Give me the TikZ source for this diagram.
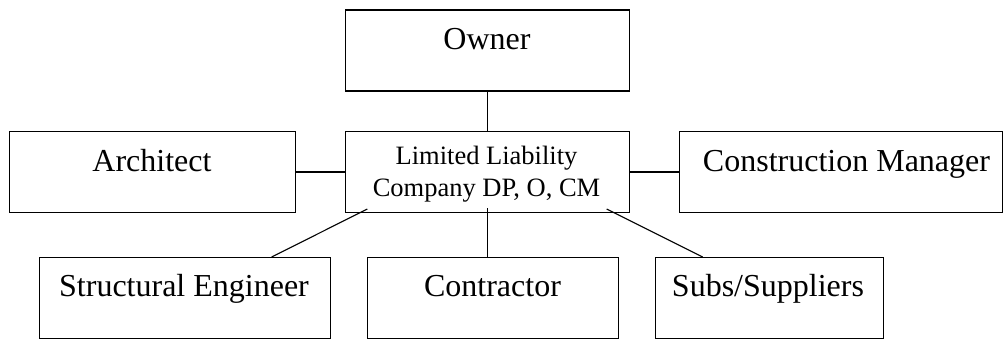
\documentclass[tikz,border=0pt]{standalone}
\usepackage{fontspec}
\setmainfont{Liberation Serif}
\begin{document}
\begin{tikzpicture}[x=1pt,y=-1pt,
  box/.style={draw,line width=1.1pt,rectangle,inner sep=0pt,anchor=north west},
  lbl/.style={anchor=base,inner sep=0pt,font=\fontsize{32}{38}\selectfont},
  small/.style={anchor=base,inner sep=0pt,align=center,font=\fontsize{26.5}{31.7}\selectfont},
  conn/.style={line width=1.1pt}]
\useasboundingbox (0,0) rectangle (1003,339);
\node[box,minimum width=284pt,minimum height=81pt] (owner) at (345,9.5) {};
\node[box,minimum width=284pt,minimum height=81pt] (llc) at (345,131) {};
\node[box,minimum width=286pt,minimum height=81pt] (arch) at (9,131) {};
\node[box,minimum width=322.5pt,minimum height=81pt] (cm) at (679,131) {};
\node[box,minimum width=291pt,minimum height=81pt] (se) at (39,257) {};
\node[box,minimum width=251pt,minimum height=81pt] (con) at (367,257) {};
\node[box,minimum width=228pt,minimum height=81pt] (subs) at (655,257) {};
\node[lbl] (towner) at (487,49.3) {Owner};
\node[lbl] (tarch) at (152,171.7) {Architect};
\node[lbl] (tcm) at (846.5,171.7) {Construction Manager};
\node[small] (tllc1) at (486.5,165) {Limited Liability};
\node[small] (tllc2) at (486.5,196.7) {Company DP, O, CM};
\node[lbl] (tse) at (184,296) {Structural Engineer};
\node[lbl] (tcon) at (492.5,296) {Contractor};
\node[lbl] (tsubs) at (768,296) {Subs/Suppliers};
\coordinate (llcsw) at (367.3,209);
\coordinate (llcse) at (606.7,209);
\coordinate (llcb) at (487.3,208);
\draw[conn] (owner.south) -- (llc.north);
\draw[conn] (arch.east) -- (llc.west);
\draw[conn] (llc.east) -- (cm.west);
\draw[conn] (llcb) -- (llcb |- con.north);
\draw[conn] (llcsw) -- (se.north -| 271.7,0);
\draw[conn] (llcse) -- (subs.north -| 702.7,0);
\end{tikzpicture}
\end{document}
